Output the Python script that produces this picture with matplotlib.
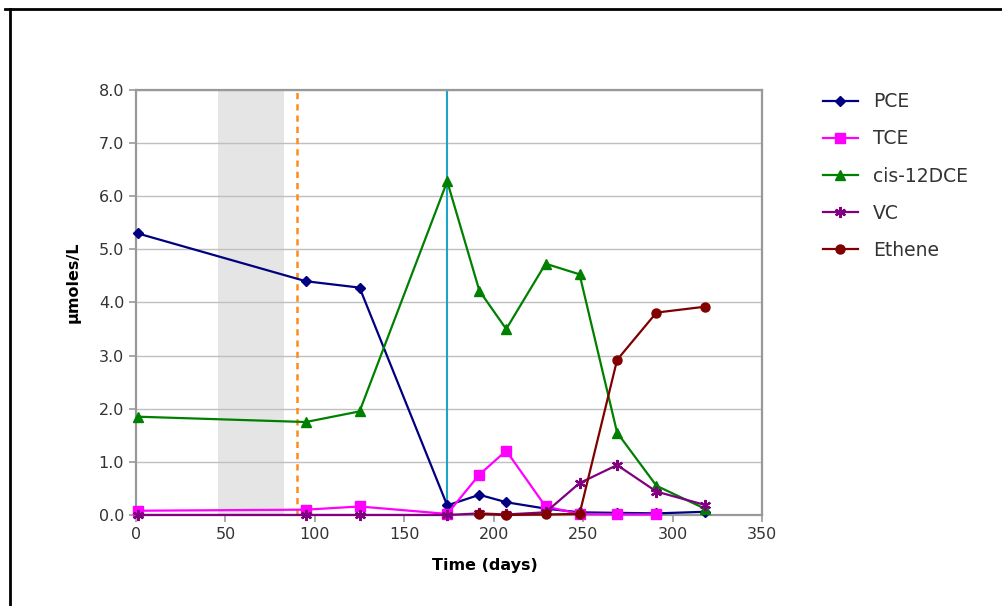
import numpy as np
import matplotlib
matplotlib.use("Agg")
import matplotlib.pyplot as plt
from matplotlib.lines import Line2D

plt.rcParams['font.family'] = ['DejaVu Sans']

# sampling days and concentrations (umoles/L)
days = [1, 95, 125, 174, 192, 207, 229, 248, 269, 291, 318]
pce = [5.3, 4.4, 4.28, 0.18, 0.38, 0.24, 0.12, 0.05, 0.04, 0.03, 0.06]
tce = [0.08, 0.1, 0.16, 0.02, 0.76, 1.21, 0.16, 0.02, 0.01, 0.01]
dce = [1.85, 1.75, 1.95, 6.28, 4.22, 3.5, 4.73, 4.53, 1.55, 0.55, 0.12]
vc = [0.0, 0.0, 0.0, 0.0, 0.03, 0.01, 0.05, 0.6, 0.94, 0.44, 0.19]
eth_days = [192, 207, 229, 248, 269, 291, 318]
ethene = [0.02, 0.0, 0.01, 0.02, 2.92, 3.81, 3.92]

shade = (46, 83)
dash_day = 90
cyan_day = 174

fig = plt.figure(figsize=(10.03, 6.06), dpi=100)
ax = fig.add_axes([0.1356, 0.1502, 0.6241, 0.7013])

ax.axvspan(shade[0], shade[1], color='#e5e5e5', lw=0, zorder=0)
ax.axvline(dash_day, color='#ff8c1a', lw=1.8, ls=(0, (2.5, 2)), zorder=1)
ax.axvline(cyan_day, color='#1ea4c9', lw=1.5, zorder=1)

ax.plot(days, pce, color='#000080', marker='D', ms=5.5, lw=1.6, label='PCE', clip_on=False, zorder=3)
ax.plot(days[:len(tce)], tce, color='#ff00ff', marker='s', ms=6.5, lw=1.6, label='TCE', clip_on=False, zorder=3)
ax.plot(days, dce, color='#008000', marker='^', ms=7, lw=1.6, label='cis-12DCE', clip_on=False, zorder=3)
ax.plot(days, vc, color='#800080', marker=(6, 2, 0), ms=8, mew=1.6, lw=1.6, label='VC', clip_on=False, zorder=3)
ax.plot(eth_days, ethene, color='#800000', marker='o', ms=6.5, lw=1.6, label='Ethene', clip_on=False, zorder=3)

ax.set_xlim(0, 350)
ax.set_ylim(0, 8)
ax.set_xticks(np.arange(0, 351, 50))
ax.set_yticks(np.arange(0, 8.1, 1))
ax.set_yticklabels([f'{v:.1f}' for v in np.arange(0, 8.1, 1)])
ax.yaxis.grid(True, color='#bfbfbf', lw=1)
ax.set_axisbelow(True)
for s in ax.spines.values():
    s.set_color('#999999')
    s.set_linewidth(1.6)
ax.tick_params(colors='#999999', labelcolor='#333333', labelsize=11.5, length=5, width=1.2)

ax.set_xlabel('Time (days)', fontsize=11.5, fontweight='bold')
ax.set_ylabel('µmoles/L', fontsize=11.5, fontweight='bold')
ax.xaxis.set_label_coords(0.5575, -0.101)
ax.yaxis.set_label_coords(-0.088, 0.548)

leg = fig.legend(loc='upper left', bbox_to_anchor=(0.8036, 0.8756), frameon=False,
                 fontsize=13.5, handlelength=1.87, handletextpad=0.8, labelspacing=0.97)
for t in leg.get_texts():
    t.set_color('#333333')

# outer border of the chart area
fig.add_artist(Line2D([0.010, 0.010], [0.0, 0.985], transform=fig.transFigure, color='black', lw=2))
fig.add_artist(Line2D([0.005, 1.0], [0.985, 0.985], transform=fig.transFigure, color='black', lw=2))

fig.savefig('out.png', dpi=100)
